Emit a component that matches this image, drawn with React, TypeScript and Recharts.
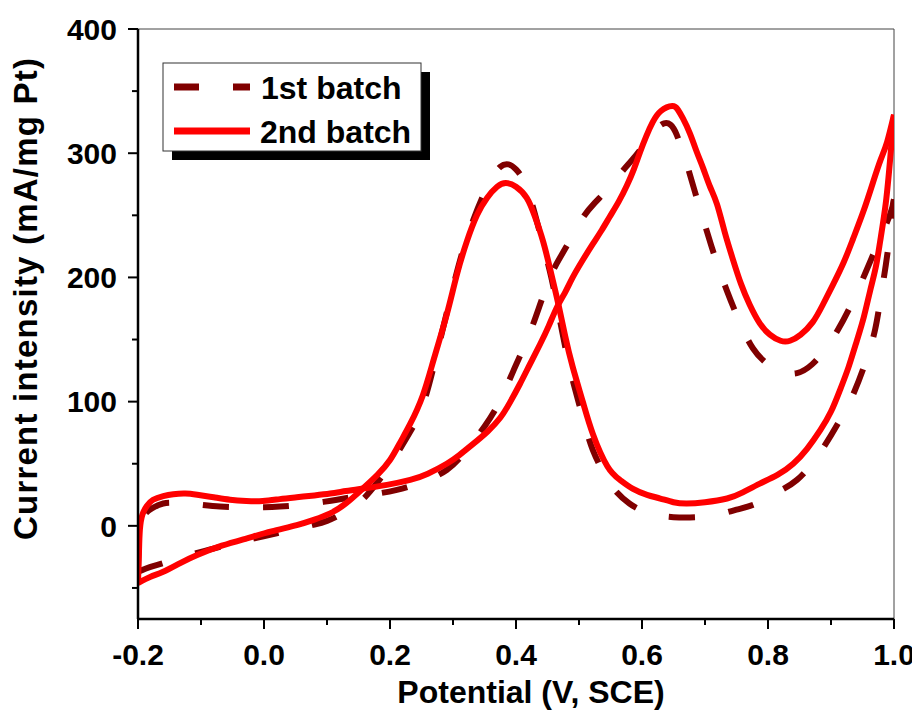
import React from "react";
import { LineChart, Line, XAxis, YAxis, ReferenceLine, Customized } from "recharts";

// ---- data (potential in V vs SCE, current in mA/mg Pt) ----
const xMajorTicks = [-0.2, 0.0, 0.2, 0.4, 0.6, 0.8, 1.0];
const xMinorTicks = [-0.1, 0.1, 0.3, 0.5, 0.7, 0.9];
const yMajorTicks = [0, 100, 200, 300, 400];
const yMinorTicks = [-50, 50, 150, 250, 350];

const seriesNames = ["1st batch", "2nd batch"];

// 2nd batch (solid red), lower branch: -0.2 V -> 1.0 V
const batch2Lower = [
  [-0.2, -46], [-0.18, -41], [-0.16, -37], [-0.133, -30], [-0.106, -23.5], [-0.067, -16],
  [-0.027, -10], [0.012, -4.5], [0.052, 0.6], [0.08, 5], [0.105, 10], [0.13, 18],
  [0.157, 30], [0.18, 41], [0.2, 53], [0.216, 67], [0.232, 82], [0.252, 105],
  [0.27, 135], [0.29, 170], [0.306, 202], [0.322, 229], [0.338, 250], [0.354, 264],
  [0.37, 273], [0.384, 276], [0.4, 273], [0.417, 264], [0.43, 249], [0.443, 229],
  [0.455, 205], [0.467, 179], [0.478, 153], [0.49, 128], [0.506, 100], [0.522, 74],
  [0.545, 48], [0.565, 37], [0.585, 30], [0.608, 25], [0.629, 22], [0.65, 19],
  [0.671, 18], [0.7, 19], [0.735, 22], [0.76, 27], [0.787, 34], [0.815, 41],
  [0.84, 50], [0.862, 62], [0.883, 77], [0.9, 92], [0.914, 109], [0.928, 128],
  [0.941, 149], [0.952, 168], [0.962, 189], [0.971, 208], [0.978, 229], [0.987, 260],
  [0.994, 296], [1.0, 331],
];

// 2nd batch (solid red), upper branch
const batch2Upper = [
  [-0.2, -46], [-0.1985, -22], [-0.197, -3], [-0.193, 9], [-0.186, 16], [-0.176, 21],
  [-0.16, 24], [-0.144, 25.5], [-0.125, 26], [-0.106, 25], [-0.08, 23], [-0.054, 21],
  [-0.028, 20], [-0.002, 20], [0.025, 21.5], [0.052, 23], [0.08, 24.5], [0.105, 26],
  [0.13, 28], [0.157, 30], [0.195, 33], [0.232, 37], [0.26, 42], [0.29, 50],
  [0.31, 57], [0.332, 66], [0.355, 76], [0.375, 87], [0.39, 99], [0.406, 114],
  [0.422, 130], [0.438, 146], [0.452, 161], [0.465, 176], [0.478, 188], [0.49, 200],
  [0.506, 214], [0.522, 227], [0.536, 238], [0.549, 249], [0.563, 261], [0.576, 274],
  [0.587, 287], [0.597, 301], [0.607, 314], [0.617, 325], [0.63, 334], [0.648, 338],
  [0.657, 335], [0.665, 328], [0.676, 316], [0.687, 301], [0.697, 288], [0.708, 273],
  [0.719, 259], [0.731, 237], [0.744, 215], [0.757, 195], [0.771, 178], [0.787, 163],
  [0.803, 154], [0.82, 149], [0.835, 149], [0.852, 154], [0.871, 164], [0.887, 178],
  [0.903, 194], [0.92, 212], [0.935, 231], [0.952, 254], [0.967, 277], [0.979, 295],
  [0.989, 309], [1.0, 331],
];

// 1st batch (dashed dark red), lower branch
const batch1Lower = [
  [-0.2, -37], [-0.18, -33], [-0.16, -30], [-0.13, -25], [-0.1, -21], [-0.07, -17],
  [-0.04, -13], [-0.01, -9.5], [0.02, -6], [0.05, -2.5], [0.08, 1], [0.1, 4],
  [0.121, 9], [0.14, 15], [0.16, 23], [0.18, 35], [0.195, 45], [0.21, 57],
  [0.23, 74], [0.252, 97], [0.275, 140], [0.3, 192], [0.316, 222], [0.332, 246],
  [0.348, 266], [0.362, 280], [0.375, 289], [0.388, 291], [0.4, 287], [0.412, 278],
  [0.425, 260], [0.44, 232], [0.456, 200], [0.47, 165], [0.484, 130], [0.497, 104],
  [0.51, 80], [0.522, 61], [0.54, 42], [0.56, 27], [0.58, 18], [0.597, 13],
  [0.62, 9], [0.65, 7], [0.687, 7], [0.72, 9], [0.75, 13], [0.782, 18],
  [0.815, 27], [0.846, 37], [0.88, 57], [0.914, 85], [0.937, 108], [0.957, 135],
  [0.97, 158], [0.978, 181], [0.987, 210], [0.994, 237], [1.0, 263],
];

// 1st batch (dashed dark red), upper branch
const batch1Upper = [
  [-0.2, -37], [-0.199, -20], [-0.197, -5], [-0.194, 4], [-0.188, 10], [-0.178, 14],
  [-0.16, 18], [-0.14, 18.5], [-0.12, 18], [-0.1, 17], [-0.07, 15.5], [-0.04, 15],
  [0.0, 15], [0.025, 15.5], [0.06, 17], [0.09, 19], [0.116, 21], [0.15, 24],
  [0.18, 26], [0.211, 29], [0.25, 35], [0.29, 45], [0.32, 60], [0.35, 80],
  [0.375, 101], [0.396, 125], [0.417, 149], [0.436, 175], [0.454, 200], [0.47, 216],
  [0.488, 232], [0.506, 248], [0.525, 260], [0.547, 272], [0.568, 285], [0.59, 298],
  [0.608, 310], [0.624, 320], [0.635, 324], [0.645, 323], [0.655, 315], [0.664, 302],
  [0.673, 288], [0.688, 262], [0.703, 237], [0.718, 213], [0.735, 189], [0.755, 164],
  [0.776, 143], [0.8, 130], [0.823, 124], [0.846, 123], [0.87, 130], [0.89, 142],
  [0.91, 157], [0.932, 178], [0.954, 203], [0.975, 228], [0.994, 251], [1.0, 263],
];

const toRows = (pts: number[][]) => pts.map(([potential, current]) => ({ potential, current }));

const FONT = "'Liberation Sans', Arial, Helvetica, sans-serif";
const DARK = "#800000";
const RED = "#FF0000";

const TICK_SIZE = 10;

const YTick = (props: any) => {
  const { x, y, payload } = props;
  const v = payload.value;
  const major = Math.round(v) % 100 === 0;
  const ax = x + TICK_SIZE;
  return (
    <g>
      <line x1={ax} x2={ax - (major ? 10 : 6)} y1={y} y2={y} stroke="#000" strokeWidth={2} />
      {major && (
        <text x={ax - 21} y={y} dy="0.36em" textAnchor="end" fontFamily={FONT} fontWeight="bold" fontSize={30} fill="#000">
          {String(v)}
        </text>
      )}
    </g>
  );
};

const XTick = (props: any) => {
  const { x, y, payload } = props;
  const v = payload.value;
  const major = Math.abs(Math.round(v * 10)) % 2 === 0;
  const ay = y - TICK_SIZE;
  return (
    <g>
      <line x1={x} x2={x} y1={ay} y2={ay + (major ? 10 : 6)} stroke="#000" strokeWidth={2} />
      {major && (
        <text x={x} y={ay + 46} textAnchor="middle" fontFamily={FONT} fontWeight="bold" fontSize={30} fill="#000">
          {v.toFixed(1)}
        </text>
      )}
    </g>
  );
};

const Decorations = () => (
  <g>
    {/* axis titles */}
    <text x={523} y={695} textAnchor="middle" fontFamily={FONT} fontWeight="bold" fontSize={32} fill="#000">
      Potential (V, SCE)
    </text>
    <text
      x={28.5}
      y={291}
      transform="rotate(-90 28.5 291)"
      textAnchor="middle"
      fontFamily={FONT}
      fontWeight="bold"
      fontSize={33}
      fill="#000"
      textLength={482}
    >
      Current intensity (mA/mg Pt)
    </text>
    {/* legend */}
    <rect x={164} y={64} width={258} height={88} fill="#000" />
    <rect x={155} y={55} width={258} height={88} fill="#fff" stroke="#333" strokeWidth={1} />
    <line x1={166} x2={242} y1={79} y2={79} stroke={DARK} strokeWidth={7} strokeDasharray="25 34" />
    <line x1={166} x2={242} y1={123} y2={123} stroke={RED} strokeWidth={7} />
    <text x={253} y={91} fontFamily={FONT} fontWeight="bold" fontSize={32} fill="#000">
      {seriesNames[0]}
    </text>
    <text x={252} y={135} fontFamily={FONT} fontWeight="bold" fontSize={32} fill="#000">
      {seriesNames[1]}
    </text>
  </g>
);

export default function App() {
  const xTicks = [...xMajorTicks, ...xMinorTicks].sort((a, b) => a - b);
  const yTicks = [...yMajorTicks, ...yMinorTicks].sort((a, b) => a - b);
  return (
    <div style={{ width: 912, height: 702, background: "#fff" }}>
      <LineChart width={912} height={702} margin={{ top: 21, right: 26, left: 0, bottom: 0 }}>
        <XAxis
          dataKey="potential"
          type="number"
          domain={[-0.2, 1.0]}
          allowDataOverflow
          ticks={xTicks}
          interval={0}
          height={91}
          tickSize={TICK_SIZE}
          tickMargin={0}
          tickLine={false}
          axisLine={{ stroke: "#000", strokeWidth: 2.5 }}
          tick={XTick}
        />
        <YAxis
          dataKey="current"
          type="number"
          domain={[-75, 400]}
          allowDataOverflow
          ticks={yTicks}
          interval={0}
          width={130}
          tickSize={TICK_SIZE}
          tickMargin={0}
          tickLine={false}
          axisLine={{ stroke: "#000", strokeWidth: 2.5 }}
          tick={YTick}
        />
        <ReferenceLine y={400} stroke="#444" strokeWidth={1} />
        <ReferenceLine x={1.0} stroke="#444" strokeWidth={1} />
        <Line data={toRows(batch1Lower)} dataKey="current" type="natural" stroke={DARK} strokeWidth={6} strokeDasharray="26 34" dot={false} activeDot={false} isAnimationActive={false} />
        <Line data={toRows(batch1Upper)} dataKey="current" type="natural" stroke={DARK} strokeWidth={6} strokeDasharray="26 34" dot={false} activeDot={false} isAnimationActive={false} />
        <Line data={toRows(batch2Lower)} dataKey="current" type="natural" stroke={RED} strokeWidth={6} dot={false} activeDot={false} isAnimationActive={false} />
        <Line data={toRows(batch2Upper)} dataKey="current" type="natural" stroke={RED} strokeWidth={6} dot={false} activeDot={false} isAnimationActive={false} />
        <Customized component={Decorations} />
      </LineChart>
    </div>
  );
}
